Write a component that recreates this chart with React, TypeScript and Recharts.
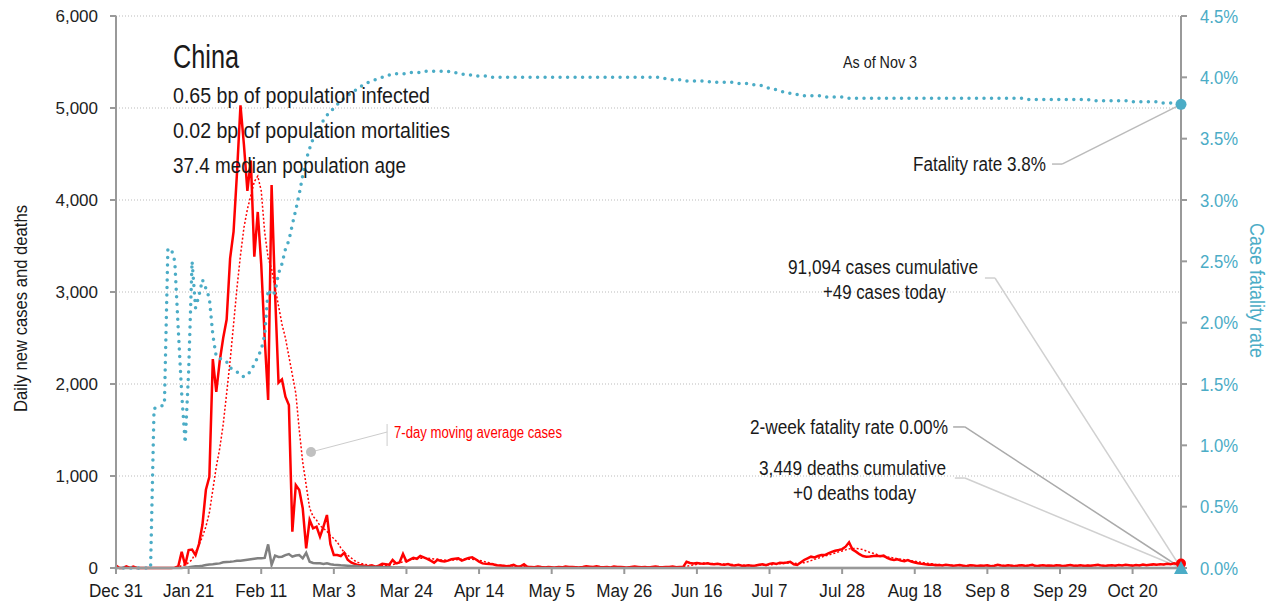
import React from "react";
import {
  ComposedChart,
  Line,
  XAxis,
  YAxis,
  CartesianGrid,
  ReferenceLine,
  ReferenceDot,
} from "recharts";

// x axis: days since Dec 31
const tickDays = [0, 21, 42, 63, 84, 105, 126, 147, 168, 189, 210, 231, 252, 273, 294];
const tickLabels = ["Dec 31", "Jan 21", "Feb 11", "Mar 3", "Mar 24", "Apr 14", "May 5", "May 26", "Jun 16", "Jul 7", "Jul 28", "Aug 18", "Sep 8", "Sep 29", "Oct 20"];
const leftTicks = [0, 1000, 2000, 3000, 4000, 5000, 6000];
const rightTicks = [0, 0.5, 1, 1.5, 2, 2.5, 3, 3.5, 4, 4.5];

// daily new cases
const dailyCases = [
  27, 0, 0, 17, 0, 15, 0, 0, 0, 0,
  0, 0, 0, 0, 0, 0, 0, 4, 17, 177,
  30, 195, 200, 140, 260, 470, 850, 990, 2270, 1915,
  2250, 2500, 2700, 3366, 3655, 4300, 5030, 4600, 4100, 4430,
  3384, 3870, 3300, 2500, 1826, 4163, 2990, 2014, 2050, 1862,
  1772, 395, 902, 848, 650, 214, 522, 431, 449, 340,
  449, 576, 260, 141, 140, 130, 166, 90, 60, 45,
  30, 30, 22, 20, 30, 15, 25, 45, 40, 35,
  87, 50, 60, 152, 70, 90, 110, 100, 130, 115,
  100, 80, 58, 90, 75, 70, 80, 95, 100, 105,
  80, 95, 110, 116, 95, 70, 50, 45, 43, 40,
  30, 28, 25, 20, 25, 35, 15, 18, 40, 12,
  10, 8, 15, 10, 6, 12, 8, 5, 10, 7,
  15, 12, 10, 8, 5, 12, 20, 15, 10, 18,
  12, 8, 10, 6, 15, 10, 12, 8, 5, 10,
  15, 12, 8, 10, 6, 12, 15, 10, 8, 12,
  10, 15, 8, 12, 10, 68, 55, 50, 55, 48,
  45, 52, 44, 40, 46, 38, 35, 42, 30, 28,
  35, 25, 25, 30, 22, 28, 35, 40, 30, 45,
  51, 45, 58, 55, 60, 68, 40, 33, 60, 87,
  105, 123, 115, 130, 141, 141, 160, 175, 188, 196,
  205, 232, 279, 200, 178, 150, 130, 123, 125, 130,
  134, 128, 134, 110, 95, 87, 95, 80, 75, 87,
  70, 60, 51, 45, 40, 35, 38, 30, 32, 28,
  35, 30, 25, 28, 32, 24, 20, 30, 26, 22,
  28, 25, 30, 20, 24, 35, 28, 22, 30, 25,
  20, 26, 30, 22, 28, 35, 20, 25, 30, 24,
  28, 22, 30, 26, 20, 28, 32, 24, 25, 30,
  22, 28, 24, 30, 35, 26, 22, 28, 30, 24,
  32, 28, 35, 30, 25, 32, 28, 38, 30, 35,
  40, 36, 42, 38, 45, 40, 52, 44, 49,
];

// 7-day moving average cases
const avgCases = [
  4, 4, 4, 6, 6, 6, 5, 2, 2, 0,
  0, 0, 0, 0, 0, 0, 0, 1, 3, 28,
  32, 60, 90, 170, 250, 340, 450, 600, 850, 1100,
  1300, 1560, 1900, 2250, 2650, 3050, 3400, 3700, 3900, 4050,
  4200, 4260, 4100, 3650, 3370, 3250, 3050, 2850, 2650, 2500,
  2300, 2100, 1900, 1500, 1150, 900, 650, 560, 520, 460,
  430, 400, 350, 320, 280, 220, 170, 140, 110, 80,
  60, 48, 40, 32, 26, 24, 24, 26, 28, 32,
  38, 45, 55, 68, 78, 88, 96, 102, 106, 108,
  108, 104, 98, 92, 88, 86, 84, 86, 88, 92,
  95, 96, 96, 94, 90, 84, 76, 66, 56, 46,
  38, 32, 27, 24, 22, 22, 20, 18, 18, 16,
  14, 12, 11, 10, 10, 9, 9, 9, 9, 9,
  10, 10, 10, 11, 11, 12, 13, 13, 13, 13,
  13, 12, 12, 11, 11, 10, 10, 10, 9, 9,
  10, 10, 10, 10, 10, 10, 10, 11, 11, 11,
  11, 11, 11, 11, 11, 19, 26, 33, 40, 47,
  53, 52, 49, 48, 46, 44, 42, 40, 38, 35,
  33, 31, 29, 28, 28, 28, 29, 31, 32, 35,
  38, 42, 46, 50, 53, 55, 52, 50, 53, 58,
  68, 80, 94, 105, 118, 130, 140, 152, 163, 175,
  185, 197, 208, 213, 212, 208, 200, 185, 170, 160,
  148, 135, 125, 120, 115, 108, 100, 95, 90, 86,
  80, 74, 66, 60, 55, 50, 45, 40, 37, 34,
  32, 31, 30, 29, 28, 27, 27, 26, 26, 25,
  25, 25, 25, 25, 26, 26, 26, 26, 26, 26,
  26, 26, 26, 26, 26, 26, 26, 26, 26, 26,
  26, 26, 26, 26, 26, 26, 26, 26, 26, 27,
  27, 27, 27, 28, 28, 28, 28, 28, 28, 28,
  29, 29, 30, 30, 30, 30, 31, 31, 32, 33,
  34, 35, 37, 38, 40, 42, 44, 45, 47,
];

// daily new deaths
const dailyDeaths = [
  0, 0, 0, 0, 0, 0, 0, 0, 0, 0,
  0, 1, 0, 0, 0, 0, 1, 0, 1, 1,
  5, 8, 15, 18, 20, 25, 33, 38, 40, 45,
  50, 62, 65, 68, 72, 78, 80, 85, 90, 95,
  100, 105, 105, 110, 257, 33, 134, 120, 123, 140,
  152, 123, 135, 141, 105, 166, 68, 55, 52, 51,
  45, 51, 40, 35, 33, 30, 28, 25, 22, 22,
  18, 15, 14, 12, 12, 10, 10, 9, 8, 7,
  6, 6, 5, 5, 4, 4, 4, 3, 3, 3,
  3, 2, 2, 2, 2, 1, 1, 1, 1, 1,
  1, 1, 0, 0, 0, 0, 0, 0, 0, 0,
  0, 0, 0, 0, 0, 0, 0, 1, 0, 0,
  0, 0, 0, 0, 0, 0, 0, 0, 0, 0,
  0, 0, 0, 0, 0, 0, 0, 0, 0, 0,
  0, 0, 0, 0, 0, 0, 0, 0, 0, 0,
  0, 0, 0, 0, 0, 0, 0, 0, 0, 0,
  0, 0, 0, 0, 0, 0, 0, 0, 0, 0,
  0, 0, 0, 0, 0, 0, 0, 0, 0, 0,
  0, 0, 0, 0, 0, 0, 0, 0, 0, 0,
  0, 0, 0, 0, 0, 0, 0, 0, 0, 0,
  0, 0, 0, 0, 0, 0, 0, 0, 0, 0,
  0, 0, 0, 0, 0, 0, 0, 0, 0, 0,
  0, 0, 0, 0, 0, 0, 0, 0, 0, 0,
  0, 0, 0, 0, 0, 0, 0, 0, 0, 0,
  0, 0, 0, 0, 0, 0, 0, 0, 0, 0,
  0, 0, 0, 0, 0, 0, 0, 0, 0, 0,
  0, 0, 0, 0, 0, 0, 0, 0, 0, 0,
  0, 0, 0, 0, 0, 0, 0, 0, 0, 0,
  0, 0, 0, 0, 0, 0, 0, 0, 0, 0,
  0, 0, 0, 0, 0, 0, 0, 0, 0, 0,
  0, 0, 0, 0, 0, 0, 0, 0, 0,
];

// case fatality rate, %
const fatalityRate = [
  0, 0, 0, 0, 0, 0, 0, 0, 0, 0,
  0, 1.3, 1.31, 1.32, 1.33, 2.6, 2.6, 2.5, 1.95, 1.42,
  1.02, 1.6, 2.5, 2.12, 2.22, 2.35, 2.28, 2.2, 1.9, 1.72,
  1.71, 1.69, 1.68, 1.63, 1.62, 1.6, 1.57, 1.56, 1.57, 1.61,
  1.66, 1.72, 1.78, 1.9, 2.27, 2.22, 2.25, 2.4, 2.48, 2.6,
  2.67, 2.8, 2.92, 3.05, 3.2, 3.33, 3.42, 3.5, 3.56, 3.6,
  3.65, 3.69, 3.72, 3.75, 3.78, 3.8, 3.83, 3.85, 3.87, 3.89,
  3.91, 3.93, 3.94, 3.96, 3.97, 3.98, 3.99, 4.0, 4.01, 4.02,
  4.02, 4.03, 4.03, 4.03, 4.03, 4.04, 4.04, 4.04, 4.04, 4.05,
  4.05, 4.05, 4.05, 4.05, 4.05, 4.05, 4.05, 4.04, 4.04, 4.03,
  4.03, 4.02, 4.02, 4.02, 4.01, 4.01, 4.01, 4.01, 4.0, 4.0,
  4.0, 4.0, 4.0, 4.0, 4.0, 4.0, 4.0, 4.0, 4.0, 4.0,
  4.0, 4.0, 4.0, 4.0, 4.0, 4.0, 4.0, 4.0, 4.0, 4.0,
  4.0, 4.0, 4.0, 4.0, 4.0, 4.0, 4.0, 4.0, 4.0, 4.0,
  4.0, 4.0, 4.0, 4.0, 4.0, 4.0, 4.0, 4.0, 4.0, 4.0,
  4.0, 4.0, 4.0, 4.0, 4.0, 4.0, 4.0, 4.0, 3.99, 3.99,
  3.98, 3.98, 3.98, 3.98, 3.97, 3.97, 3.97, 3.97, 3.97, 3.97,
  3.97, 3.97, 3.96, 3.96, 3.96, 3.96, 3.96, 3.96, 3.96, 3.95,
  3.95, 3.95, 3.95, 3.95, 3.94, 3.94, 3.94, 3.93, 3.92, 3.91,
  3.9, 3.9, 3.89, 3.88, 3.87, 3.87, 3.86, 3.86, 3.86, 3.85,
  3.85, 3.85, 3.85, 3.85, 3.85, 3.84, 3.84, 3.84, 3.84, 3.84,
  3.84, 3.84, 3.83, 3.83, 3.83, 3.83, 3.83, 3.83, 3.83, 3.83,
  3.83, 3.83, 3.83, 3.83, 3.83, 3.83, 3.83, 3.83, 3.83, 3.83,
  3.83, 3.83, 3.83, 3.83, 3.83, 3.83, 3.83, 3.83, 3.83, 3.83,
  3.83, 3.83, 3.83, 3.83, 3.83, 3.83, 3.83, 3.83, 3.83, 3.83,
  3.83, 3.83, 3.83, 3.83, 3.83, 3.83, 3.83, 3.83, 3.83, 3.83,
  3.83, 3.83, 3.83, 3.82, 3.82, 3.82, 3.82, 3.82, 3.82, 3.82,
  3.82, 3.82, 3.82, 3.82, 3.82, 3.82, 3.82, 3.82, 3.82, 3.82,
  3.82, 3.82, 3.81, 3.81, 3.81, 3.81, 3.81, 3.81, 3.81, 3.81,
  3.81, 3.81, 3.81, 3.8, 3.8, 3.8, 3.8, 3.8, 3.8, 3.8,
  3.8, 3.8, 3.79, 3.79, 3.79, 3.79, 3.78, 3.78, 3.78,
];

const data = dailyCases.map((c, i) => ({
  day: i,
  cases: c,
  avg: avgCases[i],
  deaths: dailyDeaths[i],
  cfr: fatalityRate[i],
}));

const lastDay = data.length - 1;
const lastCases = dailyCases[lastDay];
const lastRate = fatalityRate[lastDay];

const RED = "#ff0000";
const TEAL = "#4bacc6";
const AXIS = "#999";
const INK = "#1a1a1a";
const sans = "'Liberation Sans', Arial, sans-serif";

const tickLabel = (d: number) => tickLabels[tickDays.indexOf(d)] ?? "";

// condensed-looking text: squeeze a regular sans into the width the label takes
function NText({ x, y, w, size, anchor = "start", fill = INK, rotate = 0, children }: any) {
  return (
    <text
      transform={`translate(${x},${y}) rotate(${rotate})`}
      fontSize={size}
      fill={fill}
      textAnchor={anchor}
      textLength={w}
      lengthAdjust="spacingAndGlyphs"
    >
      {children}
    </text>
  );
}

function DateTick({ x, y, payload }: any) {
  return (
    <text transform={`translate(${x},${y}) scale(0.9,1)`} textAnchor="middle" dy="0.71em" fontSize={19} fill={INK} fontFamily={sans}>
      {tickLabel(payload.value)}
    </text>
  );
}

function RateTick({ x, y, payload }: any) {
  return (
    <text transform={`translate(${x},${y}) scale(0.88,1)`} textAnchor="start" dy="0.35em" fontSize={19} fill={TEAL} fontFamily={sans}>
      {payload.value.toFixed(1) + "%"}
    </text>
  );
}

function Triangle(props: any) {
  const { cx, cy } = props;
  return <polygon points={`${cx},${cy - 7} ${cx - 7},${cy + 6} ${cx + 7},${cy + 6}`} fill={TEAL} />;
}

export default function App() {
  return (
    <div style={{ position: "absolute", left: 0, top: 0, width: 1276, height: 610, background: "#fff" }}>
      <ComposedChart width={1276} height={610} data={data} margin={{ top: 16, right: 0, bottom: 0, left: 0 }}>
        <CartesianGrid yAxisId="left" vertical={false} stroke="#bbb" strokeDasharray="1 2" />
        <XAxis
          dataKey="day"
          type="number"
          domain={[0, lastDay]}
          ticks={tickDays}
          height={42}
          axisLine={{ stroke: AXIS, strokeWidth: 2 }}
          tickLine={{ stroke: AXIS, strokeWidth: 2 }}
          tickSize={6}
          tickMargin={9}
          tick={<DateTick />}
          interval={0}
        />
        <YAxis
          yAxisId="left"
          domain={[0, 6000]}
          ticks={leftTicks}
          width={116}
          tickFormatter={(v: number) => v.toLocaleString("en-US")}
          axisLine={{ stroke: AXIS, strokeWidth: 2 }}
          tickLine={{ stroke: AXIS, strokeWidth: 2 }}
          tickSize={6}
          tickMargin={12}
          tick={{ fill: "#222", fontSize: 17, fontFamily: sans }}
          interval={0}
        />
        <YAxis
          yAxisId="right"
          orientation="right"
          domain={[0, 4.5]}
          ticks={rightTicks}
          width={95}
          axisLine={{ stroke: AXIS, strokeWidth: 2 }}
          tickLine={{ stroke: AXIS, strokeWidth: 2 }}
          tickSize={6}
          tickMargin={13}
          tick={<RateTick />}
          interval={0}
        />

        {/* leader lines */}
        <ReferenceLine yAxisId="right" segment={[{ x: 270.7, y: 3.293 }, { x: 273.6, y: 3.293 }]} stroke="#bbb" strokeWidth={1.5} />
        <ReferenceLine yAxisId="right" segment={[{ x: 273.6, y: 3.293 }, { x: lastDay, y: lastRate }]} stroke="#bbb" strokeWidth={1.5} />
        <ReferenceLine yAxisId="left" segment={[{ x: 251.3, y: 3152 }, { x: 254.2, y: 3152 }]} stroke="#d0d0d0" strokeWidth={1.5} />
        <ReferenceLine yAxisId="left" segment={[{ x: 254.2, y: 3152 }, { x: lastDay, y: 0 }]} stroke="#d0d0d0" strokeWidth={1.5} />
        <ReferenceLine yAxisId="left" segment={[{ x: 242.1, y: 1533 }, { x: 245.5, y: 1533 }]} stroke="#aaa" strokeWidth={1.5} />
        <ReferenceLine yAxisId="left" segment={[{ x: 245.5, y: 1533 }, { x: lastDay, y: 0 }]} stroke="#aaa" strokeWidth={1.5} />
        <ReferenceLine yAxisId="left" segment={[{ x: 242.6, y: 978 }, { x: 245.5, y: 978 }]} stroke="#d0d0d0" strokeWidth={1.5} />
        <ReferenceLine yAxisId="left" segment={[{ x: 245.5, y: 978 }, { x: lastDay, y: 0 }]} stroke="#d0d0d0" strokeWidth={1.5} />
        <ReferenceLine yAxisId="left" segment={[{ x: 56.4, y: 1261 }, { x: 78.4, y: 1478 }]} stroke="#ccc" strokeWidth={1} />
        <ReferenceLine yAxisId="left" segment={[{ x: 78.4, y: 1565 }, { x: 78.4, y: 1326 }]} stroke="#ccc" strokeWidth={1} />
        <ReferenceDot yAxisId="left" x={56.4} y={1261} r={5} fill="#c0c0c0" stroke="none" />

        <Line yAxisId="left" dataKey="cases" stroke={RED} strokeWidth={2.5} dot={false} isAnimationActive={false} />
        <Line yAxisId="left" dataKey="avg" stroke={RED} strokeWidth={1.5} strokeDasharray="2 2" dot={false} isAnimationActive={false} />
        <Line yAxisId="left" dataKey="deaths" stroke="#808080" strokeWidth={2.5} dot={false} isAnimationActive={false} />
        <Line
          yAxisId="right"
          dataKey="cfr"
          stroke={TEAL}
          strokeWidth={3.5}
          strokeDasharray="0 7.5"
          strokeLinecap="round"
          dot={false}
          isAnimationActive={false}
        />

        <ReferenceDot yAxisId="left" x={lastDay} y={lastCases} r={5} fill={RED} stroke="none" />
        <ReferenceDot yAxisId="right" x={lastDay} y={0} shape={Triangle} />
        <ReferenceDot yAxisId="right" x={lastDay} y={lastRate} r={5.5} fill={TEAL} stroke="none" />
      </ComposedChart>

      <svg width={1276} height={610} style={{ position: "absolute", left: 0, top: 0, pointerEvents: "none" }} fontFamily={sans}>
        <NText x={173} y={68} w={66} size={34}>China</NText>
        <NText x={173} y={103} w={257} size={22}>0.65 bp of population infected</NText>
        <NText x={173} y={138} w={277} size={22}>0.02 bp of population mortalities</NText>
        <NText x={173} y={173} w={233} size={22}>37.4 median population age</NText>
        <NText x={843} y={68} w={74} size={16}>As of Nov 3</NText>
        <NText x={913} y={171} w={133} size={20}>Fatality rate 3.8%</NText>
        <NText x={788} y={274} w={190} size={20}>91,094 cases cumulative</NText>
        <NText x={823} y={299} w={123} size={20}>+49 cases today</NText>
        <NText x={750} y={434} w={198} size={20}>2-week fatality rate 0.00%</NText>
        <NText x={759} y={475} w={187} size={20}>3,449 deaths cumulative</NText>
        <NText x={793} y={500} w={123} size={20}>+0 deaths today</NText>
        <NText x={394} y={438} w={168} size={16} fill={RED}>7-day moving average cases</NText>
        <NText x={27} y={412} w={207} size={19} rotate={-90}>Daily new cases and deaths</NText>
        <NText x={1250} y={223} w={135} size={20} rotate={90} fill={TEAL}>Case fatality rate</NText>
      </svg>
    </div>
  );
}
